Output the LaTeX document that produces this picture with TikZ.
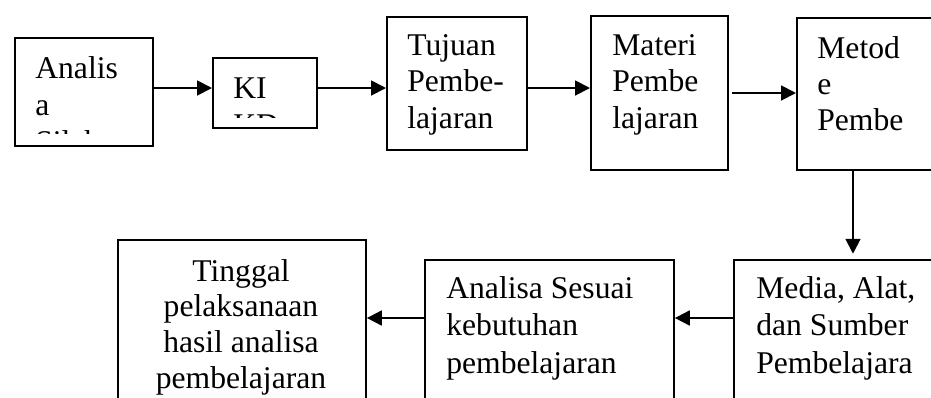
\documentclass[tikz,border=0pt]{standalone}
\usepackage{fontspec}
\setmainfont{Liberation Serif}
\usetikzlibrary{arrows.meta}
\begin{document}
\begin{tikzpicture}[x=0.02cm, y=-0.02cm,
		box/.style={draw, line width=1.1pt, inner sep=0, anchor=north west},
		arr/.style={line width=1.1pt, -{Triangle[length=8.5pt, width=8.5pt]}},
		txt/.style={anchor=base west, inner sep=0, font=\fontsize{18}{21}\selectfont}]
	\clip (0,0) rectangle (931,397);

	\node[box, minimum width=2.76cm, minimum height=2.16cm] (analisa) at (14,37) {};
	\node[box, minimum width=2.08cm, minimum height=1.4cm] (ki) at (212,57) {};
	\node[box, minimum width=2.8cm, minimum height=2.66cm] (tujuan) at (386,16) {};
	\node[box, minimum width=2.74cm, minimum height=3.08cm] (materi) at (590,15) {};
	\node[box, minimum width=3.28cm, minimum height=3.04cm] (metode) at (796,17) {};
	\node[box, minimum width=4.96cm, minimum height=3.62cm] (tinggal) at (117,239) {};
	\node[box, minimum width=4.98cm, minimum height=3.22cm] (sesuai) at (424,259) {};
	\node[box, minimum width=4.54cm, minimum height=3.22cm] (media) at (733,259) {};

	\begin{scope}
		\clip (14,37) rectangle (152,133);
		\foreach \t [count=\i from 0] in {Analis, a, Silabus}
			\node[txt] (analisa-\i) at (35,{78+37*\i}) {\t};
	\end{scope}
	\begin{scope}
		\clip (212,57) rectangle (316,117);
		\foreach \t [count=\i from 0] in {KI, KD}
			\node[txt] (ki-\i) at (233,{98+37*\i}) {\t};
	\end{scope}
	\foreach \t [count=\i from 0] in {Tujuan, Pembe-, lajaran}
		\node[txt] (tujuan-\i) at (407,{55+36.5*\i}) {\t};
	\foreach \t [count=\i from 0] in {Materi, Pembe, lajaran}
		\node[txt] (materi-\i) at (612,{55+36.5*\i}) {\t};
	\foreach \t [count=\i from 0] in {Metod, e, Pembe}
		\node[txt] (metode-\i) at (817,{58+36*\i}) {\t};
	\foreach \t [count=\i from 0] in {Tinggal, pelaksanaan, hasil analisa, pembelajaran}
		\node[txt, anchor=base] (tinggal-\i) at (241,{281+35.7*\i}) {\t};
	\foreach \t [count=\i from 0] in {Analisa Sesuai, kebutuhan, pembelajaran}
		\node[txt] (sesuai-\i) at (446,{298+37.5*\i}) {\t};
	\foreach \t [count=\i from 0] in {{Media, Alat,}, dan Sumber, Pembelajara}
		\node[txt] (media-\i) at (756,{298+37.5*\i}) {\t};

	\coordinate (r1) at (0,88);
	\draw[arr] (analisa.east |- r1) -- (ki.west |- r1);
	\draw[arr] (ki.east |- r1) -- (tujuan.west |- r1);
	\draw[arr] (tujuan.east |- r1) -- (materi.west |- r1);
	\coordinate (m0) at (732,93);
	\draw[arr] (m0) -- (metode.west |- m0);
	\coordinate (c1) at (853,0);
	\draw[arr, shorten >=3pt] (metode.south -| c1) -- (media.north -| c1);
	\coordinate (r2) at (0,318);
	\draw[arr] (media.west |- r2) -- (sesuai.east |- r2);
	\draw[arr] (sesuai.west |- r2) -- (tinggal.east |- r2);
\end{tikzpicture}
\end{document}
